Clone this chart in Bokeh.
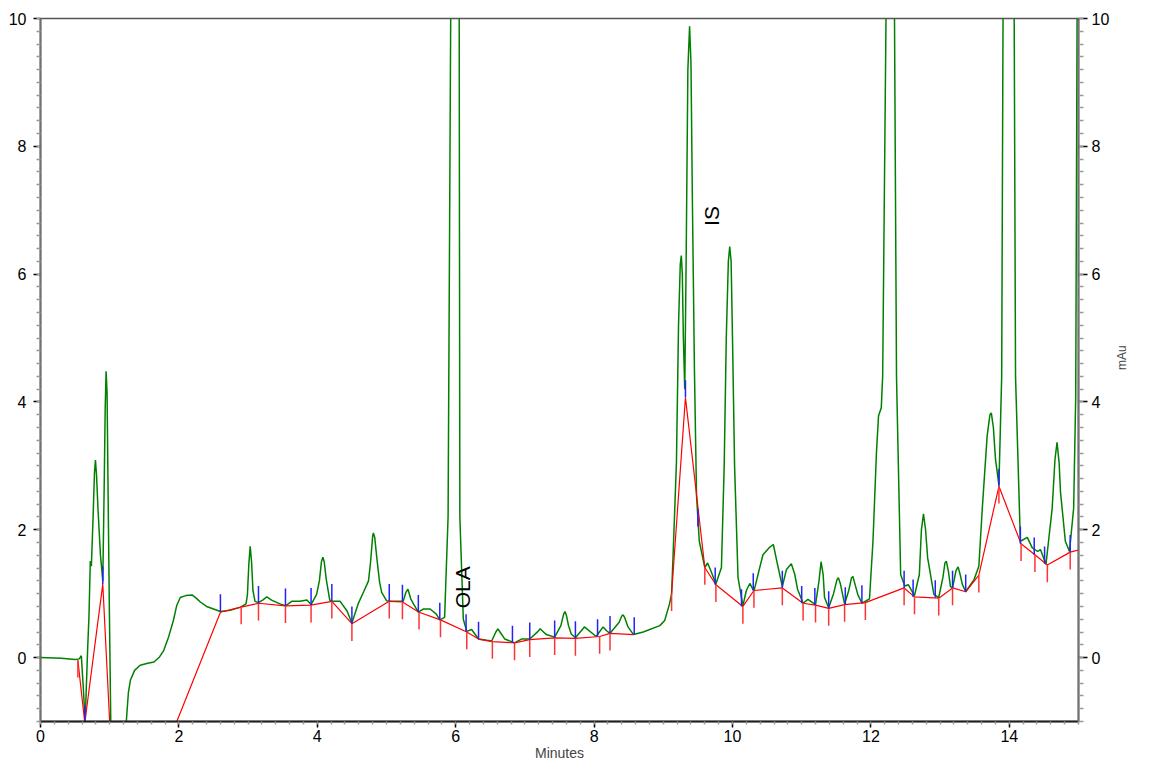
import math

from bokeh.core.properties import value
from bokeh.embed import file_html
from bokeh.models import LinearAxis, Range1d, SingleIntervalTicker
from bokeh.plotting import figure
from bokeh.resources import INLINE

# detector trace (minutes, mAu); peaks above 10 are off scale
trace_t = [0.00, 0.30, 0.50, 0.56, 0.59, 0.62, 0.645, 0.68, 0.70, 0.72, 0.735, 0.76, 0.78,
           0.794, 0.81, 0.83, 0.866, 0.90, 0.92, 0.935, 0.948, 0.962, 0.976, 0.996, 1.02,
           1.10, 1.20, 1.24, 1.27, 1.30, 1.36, 1.44, 1.55, 1.64, 1.72, 1.78, 1.85, 1.92,
           1.97, 2.02, 2.10, 2.19, 2.25, 2.31, 2.40, 2.50, 2.60, 2.74, 2.89, 2.97, 2.99,
           3.01, 3.03, 3.05, 3.07, 3.10, 3.15, 3.21, 3.27, 3.34, 3.46, 3.54, 3.63, 3.75,
           3.85, 3.91, 3.99, 4.03, 4.06, 4.08, 4.10, 4.13, 4.18, 4.21, 4.33, 4.43, 4.50,
           4.59, 4.67, 4.74, 4.77, 4.80, 4.81, 4.83, 4.86, 4.90, 4.93, 5.00, 5.05, 5.19,
           5.24, 5.28, 5.31, 5.35, 5.39, 5.46, 5.53, 5.63, 5.72, 5.77, 5.84, 5.89, 5.93,
           5.99, 6.05, 6.06, 6.11, 6.16, 6.23, 6.33, 6.45, 6.52, 6.58, 6.61, 6.64, 6.71,
           6.85, 6.95, 7.07, 7.19, 7.22, 7.25, 7.31, 7.43, 7.52, 7.56, 7.58, 7.60, 7.63,
           7.67, 7.73, 7.86, 8.03, 8.13, 8.18, 8.23, 8.36, 8.40, 8.42, 8.44, 8.49, 8.57,
           8.71, 8.95, 9.02, 9.09, 9.12, 9.14, 9.19, 9.22, 9.245, 9.26, 9.275, 9.29, 9.31,
           9.33, 9.355, 9.38, 9.40, 9.42, 9.45, 9.48, 9.52, 9.60, 9.64, 9.69, 9.76, 9.84,
           9.88, 9.91, 9.94, 9.96, 9.98, 10.00, 10.03, 10.08, 10.15, 10.20, 10.25, 10.31,
           10.38, 10.44, 10.53, 10.59, 10.65, 10.72, 10.78, 10.85, 10.90, 10.94, 11.02,
           11.09, 11.20, 11.25, 11.28, 11.31, 11.33, 11.39, 11.46, 11.51, 11.53, 11.56,
           11.62, 11.68, 11.72, 11.74, 11.77, 11.81, 11.87, 11.98, 12.03, 12.08, 12.11,
           12.15, 12.17, 12.22, 12.28, 12.34, 12.37, 12.43, 12.49, 12.54, 12.63, 12.70,
           12.73, 12.76, 12.79, 12.82, 12.91, 12.98, 13.04, 13.07, 13.09, 13.12, 13.15,
           13.18, 13.23, 13.26, 13.29, 13.32, 13.37, 13.49, 13.56, 13.61, 13.68, 13.72,
           13.74, 13.77, 13.80, 13.85, 13.89, 13.91, 13.99, 14.07, 14.09, 14.16, 14.26,
           14.33, 14.41, 14.45, 14.53, 14.62, 14.66, 14.69, 14.72, 14.74, 14.81, 14.87,
           14.93, 14.96, 14.98, 15.05]
trace_mau = [0.00, -0.01, -0.03, -0.02, 0.03, -0.50, -1.02, 0.10, 0.63, 1.51, 1.43, 2.20, 2.90,
             3.09, 2.85, 2.34, 1.61, 1.20, 2.65, 3.90, 4.48, 4.14, 2.65, 0.68, -1.40,
             -3.40, -2.00, -1.00, -0.55, -0.35, -0.20, -0.12, -0.09, -0.07, 0.01, 0.11, 0.32, 0.58,
             0.82, 0.94, 0.97, 0.98, 0.93, 0.87, 0.80, 0.76, 0.72, 0.74, 0.79, 0.84, 0.98,
             1.45, 1.74, 1.50, 1.05, 0.88, 0.86, 0.90, 0.95, 0.90, 0.84, 0.81, 0.88, 0.88,
             0.90, 0.83, 0.99, 1.20, 1.50, 1.57, 1.50, 1.22, 0.90, 0.88, 0.88, 0.73, 0.54,
             0.84, 1.03, 1.20, 1.50, 1.90, 1.95, 1.88, 1.56, 1.18, 1.02, 0.89, 0.88, 0.88,
             0.88, 1.02, 1.07, 0.92, 0.84, 0.71, 0.76, 0.76, 0.68, 0.59, 0.63, 2.20, 10.5,
             20.0, 10.5, 2.20, 0.60, 0.41, 0.44, 0.29, 0.27, 0.26, 0.40, 0.45, 0.40, 0.29,
             0.23, 0.29, 0.29, 0.41, 0.45, 0.42, 0.36, 0.32, 0.50, 0.68, 0.72, 0.66, 0.50,
             0.37, 0.31, 0.48, 0.33, 0.48, 0.42, 0.38, 0.55, 0.65, 0.67, 0.63, 0.48, 0.36,
             0.40, 0.50, 0.58, 0.84, 1.00, 1.56, 3.06, 5.20, 6.15, 6.29, 6.00, 5.00, 4.20,
             6.20, 9.20, 9.88, 9.30, 7.19, 4.50, 2.54, 1.82, 1.41, 1.48, 1.35, 1.15, 1.41,
             3.00, 5.00, 6.20, 6.43, 6.20, 5.00, 3.00, 1.25, 0.81, 1.05, 1.16, 1.04,
             1.35, 1.61, 1.72, 1.77, 1.46, 1.11, 1.38, 1.47, 1.30, 1.07, 0.85,
             0.91, 0.83, 1.20, 1.50, 1.30, 0.94, 0.78, 1.00, 1.22, 1.25, 1.15,
             0.84, 1.05, 1.25, 1.27, 1.15, 0.99, 0.85, 0.92, 1.82, 3.20, 3.78,
             3.91, 4.40, 10.2, 13.0, 10.2, 4.40, 1.30, 1.12, 1.14, 0.97, 1.30,
             2.00, 2.25, 2.00, 1.56, 0.99, 0.94, 1.25, 1.48, 1.51, 1.35, 1.11,
             1.09, 1.36, 1.42, 1.30, 1.15, 1.03, 1.22, 1.43, 2.34, 3.47, 3.80,
             3.83, 3.60, 3.11, 2.70, 4.40, 10.2, 14.0, 10.2, 4.40, 1.82, 1.88,
             1.72, 1.66, 1.69, 1.46, 2.34, 3.10, 3.37, 3.05, 2.59, 1.82, 1.66,
             2.34, 4.10, 10.2, 14.0]

# integration baselines (NaN separates the runs)
base_t = [0.54, 0.64, 0.90, 1.05, float("nan"),
          1.10, 2.60, 2.90, 3.15, 3.54, 3.91, 4.21, 4.50, 5.04, 5.23, 5.47, 5.78, 6.16,
          6.33, 6.53, 6.85, 7.07, 7.43, 7.73, 8.08, 8.23, 8.57, float("nan"),
          9.12, 9.32, 9.60, 9.76, 10.15, 10.31, 10.72, 11.02, 11.20, 11.39, 11.62, 11.92,
          12.48, 12.63, 12.98, 13.18, 13.37, 13.56, 13.85, 14.17, 14.37, 14.55, 14.88, 15.03]
base_mau = [-0.04, -1.02, 1.15, -2.10, float("nan"),
            -3.36, 0.71, 0.79, 0.85, 0.81, 0.82, 0.88, 0.53, 0.88, 0.87, 0.71, 0.59, 0.40,
            0.29, 0.25, 0.23, 0.28, 0.31, 0.30, 0.33, 0.38, 0.36, float("nan"),
            1.00, 4.07, 1.41, 1.14, 0.80, 1.05, 1.09, 0.85, 0.82, 0.77, 0.83, 0.86,
            1.09, 0.95, 0.93, 1.09, 1.03, 1.29, 2.68, 1.78, 1.61, 1.45, 1.65, 1.69]

# peak start / end marks
red_tick_t = [0.54, 2.90, 3.15, 3.54, 3.91, 4.21, 4.50, 5.04, 5.23, 5.47, 5.78, 6.16, 6.53,
              6.85, 7.07, 7.43, 7.73, 8.08, 8.23, 9.12, 9.60, 9.76, 10.15, 10.31, 10.72,
              11.02, 11.20, 11.39, 11.62, 11.92, 12.48, 12.63, 12.98, 13.18, 13.56, 13.85,
              14.17, 14.37, 14.55, 14.88]
red_tick_mau = [-0.04, 0.79, 0.85, 0.81, 0.82, 0.88, 0.53, 0.88, 0.87, 0.71, 0.59, 0.40, 0.25,
                0.23, 0.28, 0.31, 0.30, 0.33, 0.38, 1.00, 1.41, 1.14, 0.80, 1.05, 1.09,
                0.85, 0.82, 0.77, 0.83, 0.86, 1.09, 0.95, 0.93, 1.09, 1.29, 2.68,
                1.78, 1.61, 1.45, 1.65]
blue_tick_t = [0.64, 0.90, 2.60, 3.15, 3.54, 3.91, 4.21, 4.50, 5.04, 5.23, 5.46, 5.77, 6.15,
               6.33, 6.82, 7.07, 7.43, 7.73, 8.05, 8.23, 8.58, 9.32, 9.50, 9.75, 10.13,
               10.30, 10.72, 11.00, 11.19, 11.39, 11.63, 11.87, 12.48, 12.61, 12.93, 13.18,
               13.37, 13.85, 14.16, 14.36, 14.51, 14.88]
blue_tick_mau = [-1.02, 1.15, 0.72, 0.85, 0.81, 0.82, 0.88, 0.53, 0.88, 0.87, 0.71, 0.59, 0.41,
                 0.29, 0.23, 0.28, 0.31, 0.30, 0.33, 0.38, 0.36, 4.07, 2.05, 1.14, 0.80,
                 1.05, 1.09, 0.85, 0.82, 0.77, 0.83, 0.86, 1.09, 0.95, 0.94, 1.09,
                 1.03, 2.68, 1.78, 1.61, 1.47, 1.65]

peak_names = ["OLA", "IS"]
peak_t = [6.10, 9.70]
peak_mau = [1.10, 6.91]

TICK = 0.27
FONT = "Liberation Sans"

p = figure(width=1139, height=764, x_range=Range1d(0, 15), y_range=Range1d(-1, 10),
           output_backend="svg", toolbar_location=None,
           min_border_left=40, min_border_right=60, min_border_top=18, min_border_bottom=43)
p.xgrid.visible = False
p.ygrid.visible = False
p.outline_line_color = "#555555"
p.outline_line_width = 1.5
p.background_fill_color = "white"
p.border_fill_color = "white"

right = LinearAxis(axis_label="mAu")
p.add_layout(right, "right")

for ax in [p.xaxis[0], p.yaxis[0], right]:
    ax.ticker = SingleIntervalTicker(interval=2, num_minor_ticks=10)
    ax.axis_line_color = "#707070"
    ax.axis_line_width = 2
    ax.major_tick_line_color = "black"
    ax.major_tick_line_width = 1.5
    ax.major_tick_in = 0
    ax.minor_tick_line_color = "#999999"
    ax.minor_tick_line_width = 1.5
    ax.minor_tick_in = 0
    ax.major_label_text_font = FONT
    ax.major_label_text_font_size = "16px"
    ax.major_label_text_color = "black"

p.xaxis.axis_line_color = "#222222"
p.xaxis.major_tick_out = 6
p.xaxis.minor_tick_out = 3
p.xaxis.major_label_standoff = 2
p.xaxis.axis_label = "Minutes"
p.xaxis.axis_label_text_font = FONT
p.xaxis.axis_label_text_font_size = "14px"
p.xaxis.axis_label_text_font_style = "normal"
p.xaxis.axis_label_standoff = 0

p.yaxis[0].major_tick_out = 7
p.yaxis[0].minor_tick_out = 4
p.yaxis[0].major_label_standoff = 7

right.major_tick_out = 9
right.minor_tick_out = 5
right.major_label_standoff = 4
right.axis_label_text_font = FONT
right.axis_label_text_font_size = "12px"
right.axis_label_text_font_style = "normal"
right.axis_label_standoff = 10
try:
    right.axis_label_orientation = math.pi / 2
except (AttributeError, ValueError):
    pass

p.line(trace_t, trace_mau, line_color="#008000", line_width=1.5)
p.line(base_t, base_mau, line_color="#ff0000", line_width=1.2)
p.segment(x0=red_tick_t, y0=red_tick_mau, x1=red_tick_t,
          y1=[v - TICK for v in red_tick_mau], line_color="#ff3333", line_width=1.5)
p.segment(x0=blue_tick_t, y0=blue_tick_mau, x1=blue_tick_t,
          y1=[v + TICK for v in blue_tick_mau], line_color="#2222ff", line_width=1.5)

p.text(x=peak_t, y=peak_mau, text=peak_names, angle=math.pi / 2,
       text_align="center", text_baseline="middle",
       text_font=value(FONT), text_font_size="21px", text_color="black")

open("out.html", "w").write(file_html(p, INLINE))
